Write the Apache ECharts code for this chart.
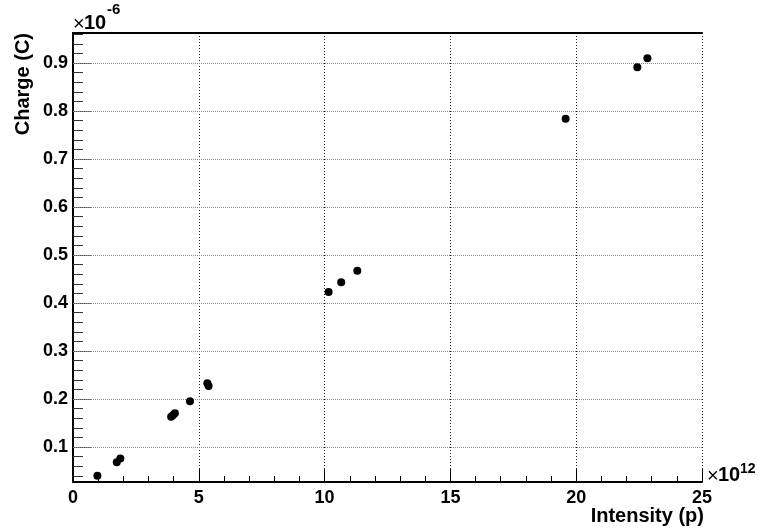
<!DOCTYPE html>
<html>
<head>
<meta charset="utf-8">
<script src="https://cdn.jsdelivr.net/npm/echarts@6/dist/echarts.min.js"></script>
<style>
  html, body { margin: 0; padding: 0; background: #fff; }
  #main { width: 759px; height: 529px; }
</style>
</head>
<body>
<div id="main"></div>
<script>
// intensity in units of 1e12 protons, charge in units of 1e-6 C
const intensity = [0.97, 1.74, 1.88, 3.90, 3.97, 4.05, 4.65, 5.34, 5.39, 10.16, 10.66, 11.30, 19.58, 22.43, 22.83];
const charge = [0.040, 0.068, 0.076, 0.163, 0.166, 0.170, 0.195, 0.233, 0.227, 0.423, 0.443, 0.467, 0.784, 0.891, 0.910];
const yTicks = [0.1, 0.2, 0.3, 0.4, 0.5, 0.6, 0.7, 0.8, 0.9];
const xTicks = [0, 5, 10, 15, 20, 25];

const yMin = 0.027, yMax = 0.9625;
// minor ticks every 0.02 between the labelled ones
const yMinor = [];
for (let v = 0.04; v < yMax; v += 0.02) {
  const r = Math.round(v * 100) / 100;
  if (Math.round(r * 100) % 10 !== 0) yMinor.push(r);
}

const font = "Liberation Sans, Arial, sans-serif";

// little helper for the free text pieces (axis titles, exponents)
function txt(text, x, y, size, bold, align, extra) {
  return Object.assign({
    type: "text",
    x: x,
    y: y,
    silent: true,
    style: {
      text: text,
      font: (bold ? "bold " : "") + size + "px " + font,
      fill: "#000",
      align: align || "left",
      verticalAlign: "middle",
    },
  }, extra || {});
}

const chart = echarts.init(document.getElementById("main"));

chart.setOption({
  animation: false,
  grid: { left: 73, top: 33, width: 629, height: 449 },
  xAxis: [
    {
      type: "value",
      min: xTicks[0],
      max: xTicks[xTicks.length - 1],
      interval: 5,
      axisLine: { lineStyle: { color: "#000", width: 2 } },
      axisTick: { inside: true, length: 13, lineStyle: { color: "#000" } },
      minorTick: { show: true, splitNumber: 5, length: 6, lineStyle: { color: "#000" } },
      axisLabel: { color: "#000", fontWeight: "bold", fontSize: 18, fontFamily: font, margin: 7 },
      splitLine: { show: true, lineStyle: { color: "#222", type: [1, 2], width: 1 } },
    },
    {
      type: "value",
      position: "top",
      min: 0,
      max: 25,
      axisLine: { show: true, lineStyle: { color: "#000", width: 2 } },
      axisTick: { show: false },
      axisLabel: { show: false },
      splitLine: { show: false },
    },
  ],
  yAxis: [
    {
      type: "value",
      min: yMin,
      max: yMax,
      axisLine: { show: true, lineStyle: { color: "#000", width: 2 } },
      axisTick: { show: true, inside: true, length: 19, customValues: yTicks, lineStyle: { color: "#555" } },
      axisLabel: {
        color: "#000", fontWeight: "bold", fontSize: 18, fontFamily: font, margin: 5,
        customValues: yTicks,
        formatter: (v) => v.toFixed(1),
      },
      splitLine: { show: false },
    },
    {
      type: "value",
      position: "left",
      min: yMin,
      max: yMax,
      axisLine: { show: false },
      axisTick: { show: true, inside: true, length: 10, customValues: yMinor, lineStyle: { color: "#333" } },
      axisLabel: { show: false },
      splitLine: { show: false },
    },
  ],
  series: [
    {
      type: "scatter",
      data: intensity.map((x, i) => [x, charge[i]]),
      symbol: "circle",
      symbolSize: 8,
      itemStyle: { color: "#000", opacity: 1 },
      emphasis: { disabled: true },
      markLine: {
        silent: true,
        symbol: "none",
        label: { show: false },
        lineStyle: { color: "#888", type: [1, 1], width: 1 },
        emphasis: { disabled: true },
        data: yTicks.map((v) => ({ yAxis: v })),
      },
      z: 5,
    },
  ],
  graphic: [
    txt("Charge (C)", 23, 33, 20, true, "right", { rotation: Math.PI / 2 }),
    txt("Intensity (p)", 704, 516, 20, true, "right"),
    // ×10^-6 above the y axis
    txt("×", 73, 24, 20, false),
    txt("10", 84, 23, 20, true),
    txt("-6", 107, 10, 15, true),
    // ×10^12 right of the x axis
    txt("×", 707, 476, 20, false),
    txt("10", 718, 475, 20, true),
    txt("12", 740, 469, 14, true),
  ],
});
</script>
</body>
</html>
